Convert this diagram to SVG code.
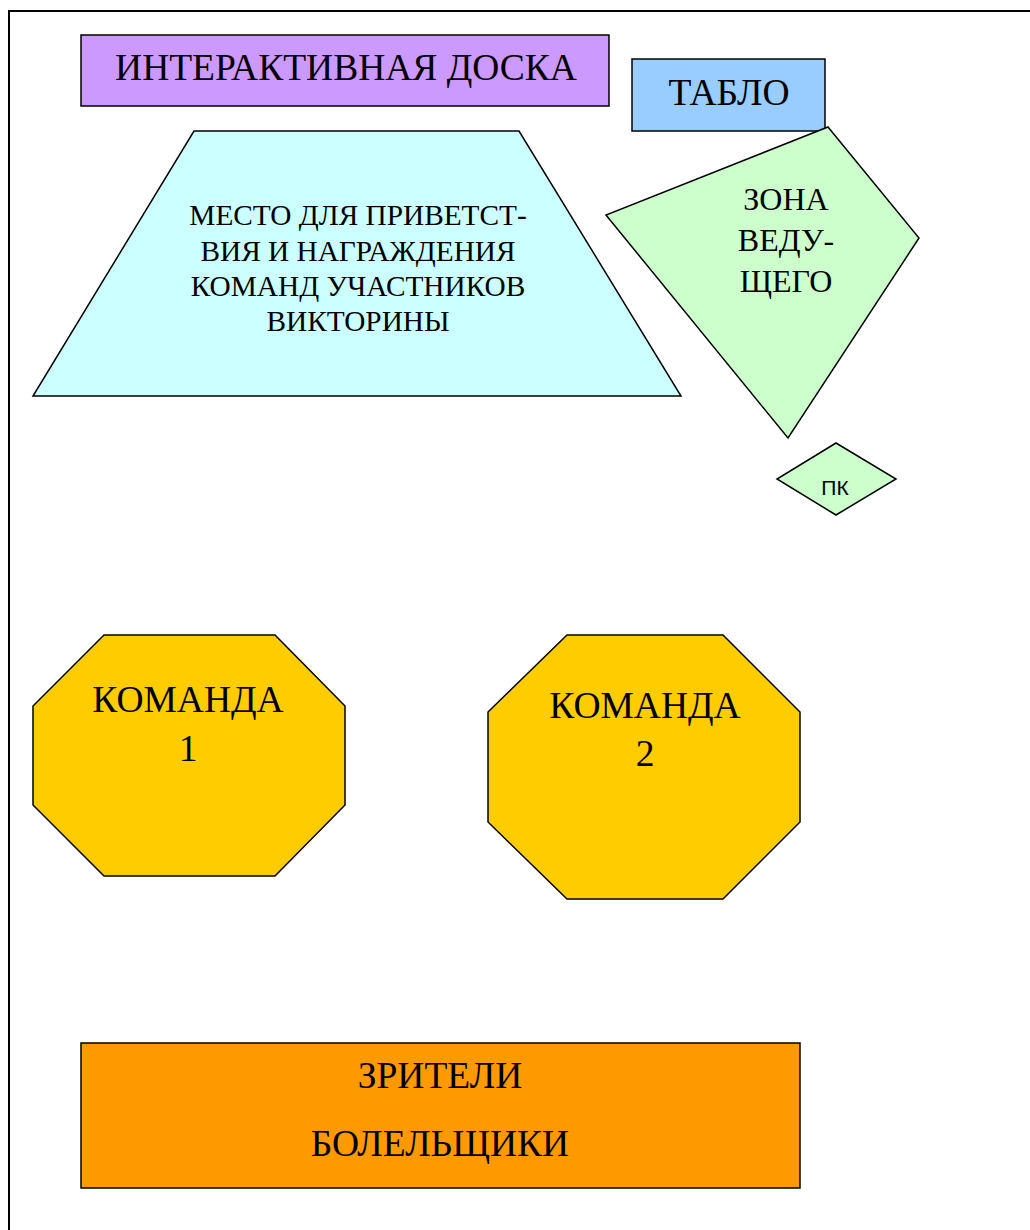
<svg xmlns="http://www.w3.org/2000/svg" width="1030" height="1230" viewBox="0 0 1030 1230">
<style>
.s{stroke:#000;stroke-width:1.5;stroke-linejoin:miter}
text.t{font-family:'Liberation Serif','Times New Roman',Tinos,serif;fill:#000;text-anchor:middle}
text.big{font-size:37.5px}
text.mid{font-size:29.3px}
text.zone{font-size:32px}
text.pk{font-family:'Liberation Sans',Arial,sans-serif;font-size:21px;fill:#000;text-anchor:middle}
</style>
<rect width="1030" height="1230" fill="#fff"/>
<path d="M9,1230 V11 H1030" fill="none" stroke="#000" stroke-width="2"/>
<g id="board">
<rect class="s" x="81" y="35" width="528" height="71" fill="#CC99FF"/>
<text class="t big" x="346" y="80">ИНТЕРАКТИВНАЯ ДОСКА</text>
</g>
<g id="tablo">
<rect class="s" x="632" y="59" width="193" height="72" fill="#99CCFF"/>
<text class="t big" x="729" y="105">ТАБЛО</text>
</g>
<g id="greeting">
<polygon class="s" points="194,131 519,131 681,396 33,396" fill="#CCFFFF"/>
<text class="t mid" x="358" y="225">МЕСТО ДЛЯ ПРИВЕТСТ-</text>
<text class="t mid" x="358" y="261">ВИЯ И НАГРАЖДЕНИЯ</text>
<text class="t mid" x="358" y="296">КОМАНД УЧАСТНИКОВ</text>
<text class="t mid" x="358" y="331">ВИКТОРИНЫ</text>
</g>
<g id="host">
<polygon class="s" points="828,127 919,238 788,438 606,215" fill="#CCFFCC"/>
<text class="t zone" x="786" y="210">ЗОНА</text>
<text class="t zone" x="786" y="251">ВЕДУ-</text>
<text class="t zone" x="786" y="292">ЩЕГО</text>
</g>
<g id="pc">
<polygon class="s" points="836,443 896,479 836,515 777,479" fill="#CCFFCC"/>
<text class="pk" x="835" y="495">ПК</text>
</g>
<g id="team1">
<polygon class="s" points="104,635 275,635 345,706 345,805 275,876 104,876 33,805 33,706" fill="#FFCC00"/>
<text class="t big" x="188" y="712">КОМАНДА</text>
<text class="t big" x="188" y="761">1</text>
</g>
<g id="team2">
<polygon class="s" points="567,635 723,635 800,712 800,822 723,899 567,899 488,822 488,712" fill="#FFCC00"/>
<text class="t big" x="645" y="718">КОМАНДА</text>
<text class="t big" x="645" y="766">2</text>
</g>
<g id="spectators">
<rect class="s" x="81" y="1043" width="719" height="145" fill="#FF9900"/>
<text class="t big" x="440" y="1088">ЗРИТЕЛИ</text>
<text class="t big" x="440" y="1156">БОЛЕЛЬЩИКИ</text>
</g>
<g id="connectors"></g>
</svg>
